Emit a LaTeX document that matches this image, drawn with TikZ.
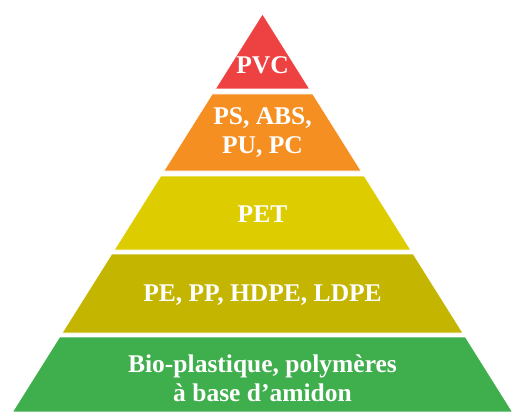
\documentclass[tikz,border=0pt]{standalone}
\usepackage{fontspec}
\setmainfont{Liberation Serif}
\usepackage{xcolor}

\definecolor{tierred}{HTML}{EE4242}
\definecolor{tierorange}{HTML}{F58F22}
\definecolor{tieryellow}{HTML}{DDCD00}
\definecolor{tierolive}{HTML}{C3B500}
\definecolor{tiergreen}{HTML}{3FAE4C}

\begin{document}
\begin{tikzpicture}[
    x=1pt,
    y=-1pt,
    layer/.style={
        draw=white,
        line width=0.6pt
    },
    label/.style={
        text=white,
        align=center,
        font=\bfseries\fontsize{25.5}{29}\selectfont
    }
]
    \useasboundingbox (0,0) rectangle (512,412);

    % Layers (top, bottom, colour)
    \foreach \top/\bot/\col in {14/89/tierred, 94/171/tierorange, 176/250/tieryellow,
                                 254/333/tierolive, 337/412/tiergreen}{
        \filldraw [layer, fill=\col]
            ({262.5-0.628*(\top-14)},\top) -- ({262.5+0.628*(\top-14)},\top)
            -- ({262.5+0.628*(\bot-14)},\bot) -- ({262.5-0.628*(\bot-14)},\bot) -- cycle;
    }

    % Labels
    \node [label] (pvc) at (262.5,65) {PVC};
    \node [label] (ps) at (262.5,133) {PS, ABS,\\PU, PC};
    \node [label] (pet) at (262.5,214) {PET};
    \node [label] (pe) at (262.5,295) {PE, PP, HDPE, LDPE};
    \node [label] (bio) at (262.5,378) {Bio-plastique, polymères\\à base d’amidon};

\end{tikzpicture}
\end{document}
